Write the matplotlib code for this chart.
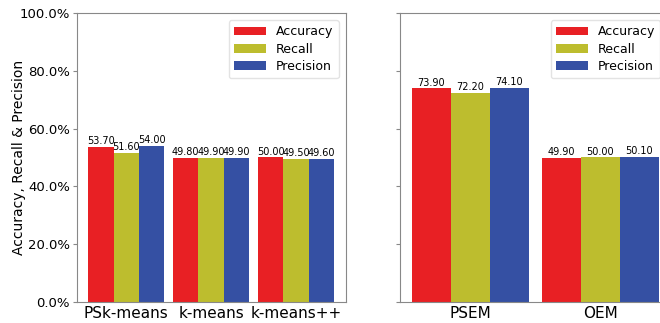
import numpy as np
import matplotlib.pyplot as plt
from matplotlib.ticker import PercentFormatter

# Результати кластеризації (у відсотках)
methods_a = ['PSk-means', 'k-means', 'k-means++']
accuracy_a = [53.70, 49.80, 50.00]
recall_a = [51.60, 49.90, 49.50]
precision_a = [54.00, 49.90, 49.60]

methods_b = ['PSEM', 'OEM']
accuracy_b = [73.90, 49.90]
recall_b = [72.20, 50.00]
precision_b = [74.10, 50.10]

metric_names = ['Accuracy', 'Recall', 'Precision']
colors = ['#e82024', '#bdbd2e', '#3550a3']
width = 0.3

fig = plt.figure(figsize=(6.6, 3.23), dpi=100)
ax1 = fig.add_axes([0.1167, 0.065, 0.4076, 0.895])
ax2 = fig.add_axes([0.606, 0.065, 0.406, 0.895])


def draw_group(ax, names, series, xlim):
    x = np.arange(len(names))
    for i, (vals, name, c) in enumerate(zip(series, metric_names, colors)):
        bars = ax.bar(x + (i - 1) * width, vals, width, color=c, label=name)
        for b, v in zip(bars, vals):
            ax.text(b.get_x() + b.get_width() / 2, v + 0.3, '%.2f' % v,
                    ha='center', va='bottom', fontsize=7)
    ax.set_xticks(x)
    ax.set_xticklabels(names, fontsize=11)
    ax.set_xlim(*xlim)
    ax.set_ylim(0, 100)
    ax.set_yticks(np.arange(0, 101, 20))
    ax.tick_params(axis='x', length=0, pad=3)
    ax.tick_params(axis='y', length=3, color='#888888')
    for s in ax.spines.values():
        s.set_color('#888888')
    ax.legend(loc='upper right', fontsize=9, handlelength=2.6,
              labelspacing=0.35, edgecolor='#dddddd', borderaxespad=0.6)


draw_group(ax1, methods_a, [accuracy_a, recall_a, precision_a], (-0.58, 2.59))
draw_group(ax2, methods_b, [accuracy_b, recall_b, precision_b], (-0.54, 1.52))

ax1.yaxis.set_major_formatter(PercentFormatter(decimals=1))
ax1.tick_params(axis='y', labelsize=9.5, pad=2)
ax1.set_ylabel('Accuracy, Recall & Precision', fontsize=10)
ax1.yaxis.set_label_coords(-0.19, 0.5)
ax2.tick_params(axis='y', labelleft=False)

fig.savefig('out.png', dpi=100)
